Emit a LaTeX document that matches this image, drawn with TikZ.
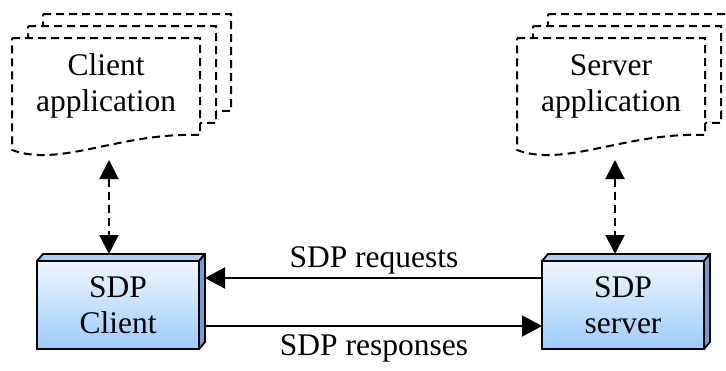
\documentclass[tikz,border=0pt]{standalone}
\usepackage{fontspec}
\setmainfont{Liberation Serif}
\usetikzlibrary{arrows.meta}
\definecolor{boxtop}{HTML}{F0F6FF}
\definecolor{boxbot}{HTML}{9CCCFC}
\definecolor{boxside}{HTML}{6E9ED2}
\definecolor{boxlid}{HTML}{AAD0F2}
\begin{document}
\begin{tikzpicture}[x=1pt,y=-1pt,
  docline/.style={draw=black,fill=white,line width=2pt,dash pattern=on 8pt off 5pt},
  lbl/.style={font=\fontsize{31.5}{36}\selectfont, inner sep=0pt, align=center},
  sdpbox/.style={lbl, draw=black, line width=1.8pt, minimum width=162pt, minimum height=88pt,
    outer sep=0pt, top color=boxtop, bottom color=boxbot},
  lid/.style={draw=black, line width=1.8pt, fill=boxlid, line join=round},
  side/.style={draw=black, line width=1.8pt, fill=boxside, line join=round},
  dasharrow/.style={{Triangle[length=19pt,width=19pt]}-{Triangle[length=19pt,width=19pt]}, line width=2pt, dash pattern=on 8pt off 5pt},
  solarrow/.style={-{Triangle[length=20pt,width=21pt]}, line width=2pt},
  docpic/.pic={\path[docline] (0,0) -- (188,0) -- (188,97) .. controls (108,94) and (48,130) .. (0,112) -- cycle;}
]
\useasboundingbox (0,0) rectangle (726,370);
\clip (0,0) rectangle (726,370);

% client application documents
\pic at (43,14) {docpic};
\pic at (28,26) {docpic};
\pic at (12,38) {docpic};
\node[lbl] (capp) at (106,86) {Client\\application};

% server application documents
\pic at (548,14) {docpic};
\pic at (533,26) {docpic};
\pic at (517,38) {docpic};
\node[lbl] (sapp) at (611,86) {Server\\application};

\coordinate (cdoc) at (109,160);
\coordinate (sdoc) at (615,160);

% SDP boxes
\node[sdpbox] (cbox) at (118,305) {SDP\\Client};
\draw[lid] (cbox.north west) -- ++(6,-7) -- ++(162,0) -- (cbox.north east) -- cycle;
\draw[side] (cbox.north east) -- ++(6,-7) -- ++(0,88) -- (cbox.south east) -- cycle;

\node[sdpbox] (sbox) at (623,305) {SDP\\server};
\draw[lid] (sbox.north west) -- ++(6,-7) -- ++(162,0) -- (sbox.north east) -- cycle;
\draw[side] (sbox.north east) -- ++(6,-7) -- ++(0,88) -- (sbox.south east) -- cycle;

% connectors
\draw[dasharrow] (cdoc) -- ([yshift=7pt]cdoc |- cbox.north);
\draw[dasharrow] (sdoc) -- ([yshift=7pt]sdoc |- sbox.north);
\draw[solarrow] ([yshift=27pt]sbox.west) -- ([xshift=6pt,yshift=27pt]cbox.east);
\draw[solarrow] ([xshift=6pt,yshift=-21pt]cbox.east) -- ([yshift=-21pt]sbox.west);

\node[lbl,anchor=base] (req) at (374,267) {SDP requests};
\node[lbl,anchor=base] (resp) at (374,355) {SDP responses};
\end{tikzpicture}
\end{document}
